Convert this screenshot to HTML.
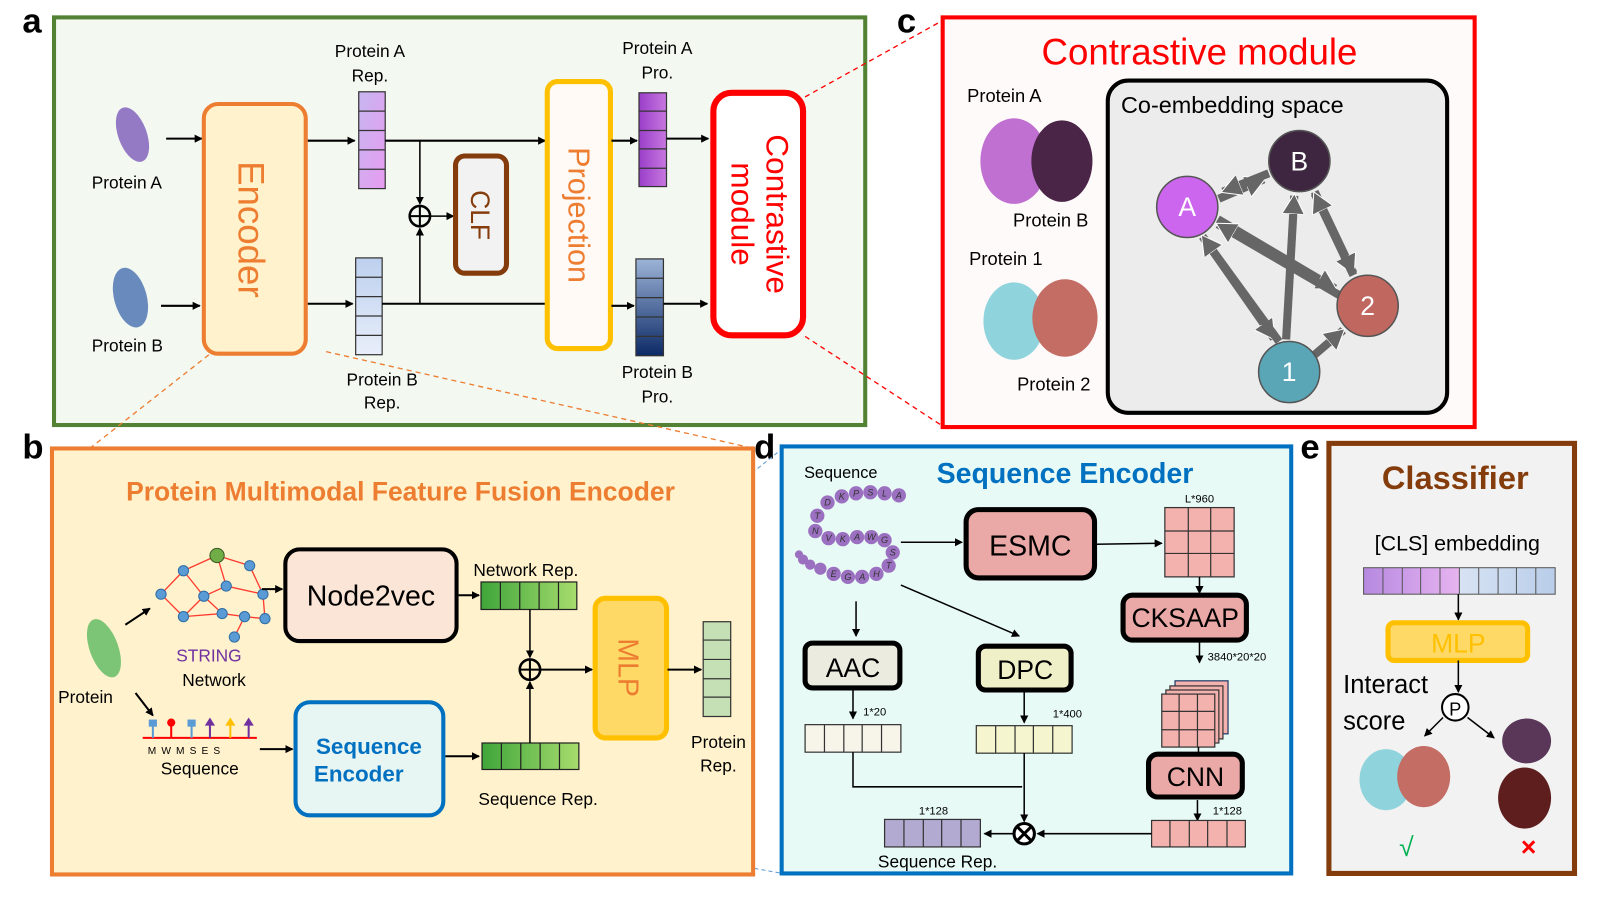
<!DOCTYPE html>
<html><head><meta charset="utf-8"><style>
html,body{margin:0;padding:0;background:#fff}
svg{display:block}
text{font-family:"Liberation Sans",sans-serif}
</style></head><body>
<svg width="1600" height="900" viewBox="0 0 1570 883" xmlns="http://www.w3.org/2000/svg">
<defs>
<marker id="ar" markerWidth="8" markerHeight="8" refX="7" refY="4" orient="auto" markerUnits="userSpaceOnUse"><path d="M0,0 L8,4 L0,8 z" fill="#000"/></marker>
<marker id="ga" markerWidth="22" markerHeight="22" refX="18" refY="11" orient="auto" markerUnits="userSpaceOnUse"><path d="M0,0 L20,11 L0,22 z" fill="#666" stroke="#fff" stroke-width="1"/></marker>
<linearGradient id="pa" x1="0" y1="0" x2="1" y2="1"><stop offset="0" stop-color="#c6b6f0"/><stop offset="1" stop-color="#e79cf0"/></linearGradient>
<linearGradient id="pb" x1="0" y1="0" x2="0" y2="1"><stop offset="0" stop-color="#bcd0ee"/><stop offset="1" stop-color="#e8eefa"/></linearGradient>
<linearGradient id="pp" x1="0" y1="0" x2="1" y2="0"><stop offset="0" stop-color="#9a3fc9"/><stop offset="1" stop-color="#c877e0"/></linearGradient>
<linearGradient id="pd" x1="0" y1="0" x2="0" y2="1"><stop offset="0" stop-color="#9db4d8"/><stop offset="1" stop-color="#0c2a66"/></linearGradient>
<linearGradient id="gn" x1="0" y1="0" x2="1" y2="0"><stop offset="0" stop-color="#3fa53a"/><stop offset="1" stop-color="#a7dc6e"/></linearGradient>
<linearGradient id="emb" x1="0" y1="0" x2="1" y2="0"><stop offset="0" stop-color="#b689e0"/><stop offset="0.5" stop-color="#e7b4f0"/><stop offset="0.5" stop-color="#d7e3f4"/><stop offset="1" stop-color="#b9cde9"/></linearGradient>
</defs>

<text x="22" y="32" font-size="34" font-weight="bold">a</text>
<text x="880" y="32" font-size="34" font-weight="bold">c</text>
<text x="22" y="450" font-size="34" font-weight="bold">b</text>
<text x="740" y="450" font-size="34" font-weight="bold">d</text>
<text x="1276" y="450" font-size="34" font-weight="bold">e</text>

<!-- ===== Panel a ===== -->
<rect x="53" y="17" width="796" height="400" fill="#f3f8f1" stroke="#548235" stroke-width="4"/>
<g fill="#8a6cc0" opacity="0.9"><ellipse cx="130" cy="132" rx="14" ry="28" transform="rotate(-20 130 132)"/></g>
<g fill="#5b7fb8" opacity="0.9"><ellipse cx="128" cy="292" rx="16" ry="30" transform="rotate(-15 128 292)"/></g>
<text x="90" y="185" font-size="17">Protein A</text>
<text x="90" y="345" font-size="17">Protein B</text>
<line x1="163" y1="136" x2="198" y2="136" stroke="#000" stroke-width="2" marker-end="url(#ar)"/>
<line x1="158" y1="300" x2="196" y2="300" stroke="#000" stroke-width="2" marker-end="url(#ar)"/>
<rect x="200" y="102" width="100" height="245" rx="14" fill="#fff2cc" stroke="#ed7d31" stroke-width="4"/>
<text transform="translate(234,225) rotate(90)" font-size="36" fill="#ed7d31" text-anchor="middle">Encoder</text>
<line x1="302" y1="138" x2="348" y2="138" stroke="#000" stroke-width="2" marker-end="url(#ar)"/>
<line x1="302" y1="298" x2="346" y2="298" stroke="#000" stroke-width="2" marker-end="url(#ar)"/>
<g stroke="#333" stroke-width="1.2">
<rect x="352" y="90" width="26" height="95" fill="url(#pa)"/>
<line x1="352" y1="109" x2="378" y2="109"/><line x1="352" y1="128" x2="378" y2="128"/><line x1="352" y1="147" x2="378" y2="147"/><line x1="352" y1="166" x2="378" y2="166"/>
<rect x="349" y="253" width="26" height="95" fill="url(#pb)"/>
<line x1="349" y1="272" x2="375" y2="272"/><line x1="349" y1="291" x2="375" y2="291"/><line x1="349" y1="310" x2="375" y2="310"/><line x1="349" y1="329" x2="375" y2="329"/>
</g>
<text x="363" y="56" font-size="17" text-anchor="middle">Protein A</text>
<text x="363" y="80" font-size="17" text-anchor="middle">Rep.</text>
<text x="375" y="378" font-size="17" text-anchor="middle">Protein B</text>
<text x="375" y="401" font-size="17" text-anchor="middle">Rep.</text>
<line x1="378" y1="138" x2="535" y2="138" stroke="#000" stroke-width="2" marker-end="url(#ar)"/>
<line x1="375" y1="298" x2="545" y2="298" stroke="#000" stroke-width="2" marker-end="url(#ar)"/>
<line x1="412" y1="138" x2="412" y2="200" stroke="#000" stroke-width="1.5" marker-end="url(#ar)"/>
<line x1="412" y1="298" x2="412" y2="224" stroke="#000" stroke-width="1.5" marker-end="url(#ar)"/>
<circle cx="412" cy="212" r="10" fill="none" stroke="#000" stroke-width="2.5"/>
<line x1="402" y1="212" x2="422" y2="212" stroke="#000" stroke-width="2"/><line x1="412" y1="202" x2="412" y2="222" stroke="#000" stroke-width="2"/>
<line x1="422" y1="212" x2="445" y2="212" stroke="#000" stroke-width="1.5" marker-end="url(#ar)"/>
<rect x="447" y="153" width="50" height="115" rx="9" fill="#f2f2f2" stroke="#843c0c" stroke-width="5"/>
<text transform="translate(462,211) rotate(90)" font-size="26" fill="#843c0c" text-anchor="middle">CLF</text>
<rect x="537" y="80" width="62" height="262" rx="10" fill="#fffaf5" stroke="#ffc000" stroke-width="5"/>
<text transform="translate(558,211) rotate(90)" font-size="30" fill="#ed7d31" text-anchor="middle">Projection</text>
<line x1="600" y1="138" x2="625" y2="138" stroke="#000" stroke-width="2" marker-end="url(#ar)"/>
<line x1="600" y1="300" x2="622" y2="300" stroke="#000" stroke-width="2" marker-end="url(#ar)"/>
<g stroke="#333" stroke-width="1.2">
<rect x="627" y="91" width="27" height="92" fill="url(#pp)"/>
<line x1="627" y1="109" x2="654" y2="109"/><line x1="627" y1="128" x2="654" y2="128"/><line x1="627" y1="146" x2="654" y2="146"/><line x1="627" y1="165" x2="654" y2="165"/>
<rect x="624" y="254" width="27" height="95" fill="url(#pd)"/>
<line x1="624" y1="273" x2="651" y2="273"/><line x1="624" y1="292" x2="651" y2="292"/><line x1="624" y1="311" x2="651" y2="311"/><line x1="624" y1="330" x2="651" y2="330"/>
</g>
<text x="645" y="53" font-size="17" text-anchor="middle">Protein A</text>
<text x="645" y="77" font-size="17" text-anchor="middle">Pro.</text>
<text x="645" y="371" font-size="17" text-anchor="middle">Protein B</text>
<text x="645" y="395" font-size="17" text-anchor="middle">Pro.</text>
<line x1="654" y1="136" x2="695" y2="136" stroke="#000" stroke-width="2" marker-end="url(#ar)"/>
<line x1="651" y1="298" x2="694" y2="298" stroke="#000" stroke-width="2" marker-end="url(#ar)"/>
<rect x="700" y="91" width="88" height="238" rx="18" fill="#fff" stroke="#ff0000" stroke-width="6"/>
<text transform="translate(752,210) rotate(90)" font-size="31" fill="#ff0000" text-anchor="middle">Contrastive</text>
<text transform="translate(718,210) rotate(90)" font-size="31" fill="#ff0000" text-anchor="middle">module</text>

<line x1="790" y1="95" x2="925" y2="20" stroke="#ff0000" stroke-width="1.3" stroke-dasharray="5,4"/>
<line x1="790" y1="330" x2="925" y2="418" stroke="#ff0000" stroke-width="1.3" stroke-dasharray="5,4"/>
<line x1="205" y1="348" x2="88" y2="440" stroke="#ed7d31" stroke-width="1.3" stroke-dasharray="5,4"/>
<line x1="320" y1="345" x2="740" y2="440" stroke="#ed7d31" stroke-width="1.3" stroke-dasharray="5,4"/>
<line x1="437" y1="704" x2="768" y2="440" stroke="#5b9bd5" stroke-width="1" stroke-dasharray="4,3"/>
<line x1="437" y1="798" x2="768" y2="857" stroke="#5b9bd5" stroke-width="1" stroke-dasharray="4,3"/>

<!-- ===== Panel c ===== -->
<rect x="925" y="17" width="522" height="402" fill="#fffafa" stroke="#ff0000" stroke-width="4"/>
<text x="1177" y="63" font-size="36" fill="#ff0000" text-anchor="middle">Contrastive module</text>
<text x="949" y="100" font-size="18">Protein A</text>
<ellipse cx="995" cy="158" rx="33" ry="42" fill="#c070d0"/>
<ellipse cx="1042" cy="158" rx="30" ry="40" fill="#4a2548"/>
<text x="994" y="222" font-size="18">Protein B</text>
<text x="951" y="260" font-size="18">Protein 1</text>
<ellipse cx="995" cy="315" rx="30" ry="38" fill="#8fd3dc"/>
<ellipse cx="1045" cy="312" rx="32" ry="38" fill="#c46d65"/>
<text x="998" y="383" font-size="18">Protein 2</text>
<rect x="1087" y="79" width="333" height="326" rx="20" fill="#ececec" stroke="#000" stroke-width="4"/>
<text x="1100" y="111" font-size="23">Co-embedding space</text>
<g stroke="#666" stroke-width="8" fill="none">
<line x1="1196" y1="195" x2="1240" y2="176" marker-end="url(#ga)"/>
<line x1="1245" y1="170" x2="1200" y2="188" marker-end="url(#ga)"/>
<line x1="1195" y1="215" x2="1310" y2="283" marker-end="url(#ga)"/>
<line x1="1315" y1="290" x2="1195" y2="220" marker-end="url(#ga)"/>
<line x1="1180" y1="232" x2="1250" y2="332" marker-end="url(#ga)"/>
<line x1="1255" y1="335" x2="1180" y2="232" marker-end="url(#ga)"/>
<line x1="1262" y1="333" x2="1270" y2="192" marker-end="url(#ga)"/>
<line x1="1290" y1="188" x2="1328" y2="268" marker-end="url(#ga)"/>
<line x1="1328" y1="270" x2="1290" y2="190" marker-end="url(#ga)"/>
<line x1="1290" y1="348" x2="1318" y2="324" marker-end="url(#ga)"/>
</g>
<circle cx="1165" cy="203" r="30" fill="#cc66ee" stroke="#555" stroke-width="1.5"/>
<circle cx="1275" cy="158" r="30" fill="#3f2640" stroke="#555" stroke-width="1.5"/>
<circle cx="1342" cy="300" r="30" fill="#c0675f" stroke="#555" stroke-width="1.5"/>
<circle cx="1265" cy="365" r="30" fill="#5aa6b6" stroke="#555" stroke-width="1.5"/>
<text x="1165" y="212" font-size="26" fill="#fff" text-anchor="middle">A</text>
<text x="1275" y="167" font-size="26" fill="#fff" text-anchor="middle">B</text>
<text x="1342" y="309" font-size="26" fill="#fff" text-anchor="middle">2</text>
<text x="1265" y="374" font-size="26" fill="#fff" text-anchor="middle">1</text>

<!-- ===== Panel b ===== -->
<rect x="51" y="440" width="688" height="418" fill="#fff2cc" stroke="#ed7d31" stroke-width="4"/>
<text x="393" y="491" font-size="26" font-weight="bold" fill="#ed7d31" text-anchor="middle">Protein Multimodal Feature Fusion Encoder</text>
<ellipse cx="102" cy="636" rx="14" ry="30" fill="#7cc576" transform="rotate(-20 102 636)"/>
<text x="57" y="690" font-size="17">Protein</text>
<line x1="123" y1="613" x2="147" y2="597" stroke="#000" stroke-width="2" marker-end="url(#ar)"/>
<line x1="133" y1="680" x2="150" y2="702" stroke="#000" stroke-width="2" marker-end="url(#ar)"/>
<g stroke="#ff3b30" stroke-width="1.3">
<line x1="213" y1="545" x2="180" y2="560"/><line x1="213" y1="545" x2="245" y2="555"/><line x1="213" y1="545" x2="222" y2="575"/>
<line x1="180" y1="560" x2="158" y2="583"/><line x1="180" y1="560" x2="200" y2="585"/><line x1="245" y1="555" x2="258" y2="583"/>
<line x1="222" y1="575" x2="200" y2="585"/><line x1="222" y1="575" x2="258" y2="583"/><line x1="158" y1="583" x2="180" y2="605"/>
<line x1="200" y1="585" x2="218" y2="602"/><line x1="258" y1="583" x2="260" y2="607"/><line x1="218" y1="602" x2="240" y2="605"/>
<line x1="180" y1="605" x2="218" y2="602"/><line x1="240" y1="605" x2="230" y2="625"/><line x1="200" y1="585" x2="180" y2="605"/><line x1="240" y1="605" x2="260" y2="607"/>
</g>
<g fill="#5b9bd5" stroke="#2e6ca4" stroke-width="1">
<circle cx="180" cy="560" r="5"/><circle cx="245" cy="555" r="5"/><circle cx="222" cy="575" r="5"/><circle cx="158" cy="583" r="5"/>
<circle cx="200" cy="585" r="5"/><circle cx="258" cy="583" r="5"/><circle cx="180" cy="605" r="5"/><circle cx="218" cy="602" r="5"/>
<circle cx="240" cy="605" r="5"/><circle cx="260" cy="607" r="5"/><circle cx="230" cy="625" r="5"/>
</g>
<circle cx="213" cy="545" r="7" fill="#70ad47" stroke="#385723"/>
<text x="205" y="649" font-size="17" fill="#7030a0" text-anchor="middle">STRING</text>
<text x="210" y="673" font-size="17" text-anchor="middle">Network</text>
<line x1="257" y1="578" x2="277" y2="578" stroke="#000" stroke-width="2" marker-end="url(#ar)"/>
<rect x="280" y="539" width="168" height="90" rx="14" fill="#fbe5d6" stroke="#000" stroke-width="4"/>
<text x="364" y="594" font-size="28" text-anchor="middle">Node2vec</text>
<line x1="450" y1="584" x2="470" y2="584" stroke="#000" stroke-width="2" marker-end="url(#ar)"/>
<text x="516" y="565" font-size="17" text-anchor="middle">Network Rep.</text>
<g stroke="#222" stroke-width="1.2">
<rect x="472" y="571" width="94" height="27" fill="url(#gn)"/>
<line x1="491" y1="571" x2="491" y2="598"/><line x1="510" y1="571" x2="510" y2="598"/><line x1="529" y1="571" x2="529" y2="598"/><line x1="548" y1="571" x2="548" y2="598"/>
</g>
<line x1="140" y1="724" x2="252" y2="724" stroke="#ff0000" stroke-width="2"/>
<g stroke-width="2">
<line x1="150" y1="724" x2="150" y2="710" stroke="#5b9bd5"/><rect x="146" y="706" width="8" height="7" fill="#5b9bd5"/>
<line x1="168" y1="724" x2="168" y2="710" stroke="#ff0000"/><circle cx="168" cy="709" r="4" fill="#ff0000"/>
<line x1="188" y1="724" x2="188" y2="710" stroke="#5b9bd5"/><rect x="184" y="706" width="8" height="7" fill="#5b9bd5"/>
<line x1="206" y1="724" x2="206" y2="710" stroke="#7030a0"/><path d="M201,712 L206,704 L211,712z" fill="#7030a0"/>
<line x1="226" y1="724" x2="226" y2="710" stroke="#ffc000"/><path d="M221,712 L226,704 L231,712z" fill="#ffc000"/>
<line x1="244" y1="724" x2="244" y2="710" stroke="#7030a0"/><path d="M239,712 L244,704 L249,712z" fill="#7030a0"/>
</g>
<text x="145" y="740" font-size="10" letter-spacing="5">MWMSES</text>
<text x="196" y="760" font-size="17" text-anchor="middle">Sequence</text>
<line x1="255" y1="735" x2="287" y2="735" stroke="#000" stroke-width="2" marker-end="url(#ar)"/>
<rect x="290" y="689" width="145" height="111" rx="14" fill="#e7f5f3" stroke="#0070c0" stroke-width="4"/>
<text x="362" y="740" font-size="22" font-weight="bold" fill="#0070c0" text-anchor="middle">Sequence</text>
<text x="352" y="767" font-size="22" font-weight="bold" fill="#0070c0" text-anchor="middle">Encoder</text>
<line x1="437" y1="742" x2="470" y2="742" stroke="#000" stroke-width="2" marker-end="url(#ar)"/>
<g stroke="#222" stroke-width="1.2">
<rect x="473" y="729" width="95" height="26" fill="url(#gn)"/>
<line x1="492" y1="729" x2="492" y2="755"/><line x1="511" y1="729" x2="511" y2="755"/><line x1="530" y1="729" x2="530" y2="755"/><line x1="549" y1="729" x2="549" y2="755"/>
</g>
<text x="528" y="790" font-size="17" text-anchor="middle">Sequence Rep.</text>
<line x1="520" y1="598" x2="520" y2="645" stroke="#000" stroke-width="1.5" marker-end="url(#ar)"/>
<line x1="520" y1="729" x2="520" y2="669" stroke="#000" stroke-width="1.5" marker-end="url(#ar)"/>
<circle cx="520" cy="657" r="10" fill="none" stroke="#000" stroke-width="2.5"/>
<line x1="510" y1="657" x2="530" y2="657" stroke="#000" stroke-width="2"/><line x1="520" y1="647" x2="520" y2="667" stroke="#000" stroke-width="2"/>
<line x1="530" y1="657" x2="581" y2="657" stroke="#000" stroke-width="2" marker-end="url(#ar)"/>
<rect x="584" y="587" width="70" height="137" rx="10" fill="#ffd966" stroke="#ffc000" stroke-width="5"/>
<text transform="translate(607,655) rotate(90)" font-size="28" fill="#ed7d31" text-anchor="middle">MLP</text>
<line x1="655" y1="657" x2="688" y2="657" stroke="#000" stroke-width="2" marker-end="url(#ar)"/>
<g stroke="#333" stroke-width="1.2">
<rect x="690" y="610" width="27" height="93" fill="#c5e0b4"/>
<line x1="690" y1="628" x2="717" y2="628"/><line x1="690" y1="647" x2="717" y2="647"/><line x1="690" y1="666" x2="717" y2="666"/><line x1="690" y1="684" x2="717" y2="684"/>
</g>
<text x="705" y="734" font-size="17" text-anchor="middle">Protein</text>
<text x="705" y="757" font-size="17" text-anchor="middle">Rep.</text>

<!-- ===== Panel d ===== -->
<rect x="767" y="438" width="500" height="419" fill="#e8faf6" stroke="#0070c0" stroke-width="4"/>
<text x="1045" y="474" font-size="28" font-weight="bold" fill="#0070c0" text-anchor="middle">Sequence Encoder</text>
<text x="789" y="469" font-size="16">Sequence</text>
<g fill="#9b70c0">
<circle cx="812" cy="493" r="7"/><circle cx="826" cy="487" r="7"/><circle cx="840" cy="484" r="7"/><circle cx="854" cy="483" r="7"/><circle cx="868" cy="484" r="7"/><circle cx="882" cy="486" r="7"/>
<circle cx="802" cy="506" r="7"/><circle cx="800" cy="521" r="7"/>
<circle cx="813" cy="528" r="7"/><circle cx="827" cy="529" r="7"/><circle cx="841" cy="527" r="7"/><circle cx="855" cy="527" r="7"/><circle cx="868" cy="530" r="7"/><circle cx="876" cy="542" r="7"/>
<circle cx="872" cy="555" r="7"/><circle cx="860" cy="563" r="7"/><circle cx="846" cy="566" r="7"/><circle cx="832" cy="566" r="7"/><circle cx="818" cy="563" r="7"/>
<circle cx="805" cy="558" r="6"/><circle cx="795" cy="554" r="5"/><circle cx="788" cy="549" r="5"/><circle cx="784" cy="544" r="4"/>
</g>
<g font-size="9" font-style="italic" text-anchor="middle" fill="#333">
<text x="812" y="496">D</text><text x="826" y="490">K</text><text x="840" y="487">P</text><text x="854" y="486">S</text><text x="868" y="487">L</text><text x="882" y="489">A</text>
<text x="802" y="509">T</text><text x="800" y="524">N</text><text x="813" y="531">V</text><text x="827" y="532">K</text><text x="841" y="530">A</text><text x="855" y="530">W</text><text x="868" y="533">G</text><text x="876" y="545">S</text>
<text x="872" y="558">T</text><text x="860" y="566">H</text><text x="846" y="569">A</text><text x="832" y="569">G</text><text x="818" y="566">E</text>
</g>
<line x1="884" y1="532" x2="944" y2="532" stroke="#000" stroke-width="1.5" marker-end="url(#ar)"/>
<rect x="948" y="500" width="126" height="67" rx="12" fill="#eaa9a6" stroke="#000" stroke-width="5"/>
<text x="1011" y="545" font-size="28" text-anchor="middle">ESMC</text>
<line x1="1075" y1="534" x2="1140" y2="533" stroke="#000" stroke-width="1.5" marker-end="url(#ar)"/>
<text x="1177" y="493" font-size="11" text-anchor="middle">L*960</text>
<g stroke="#333" stroke-width="1.2" fill="#f4b2ae">
<rect x="1143" y="498" width="68" height="68"/>
<line x1="1166" y1="498" x2="1166" y2="566"/><line x1="1188" y1="498" x2="1188" y2="566"/><line x1="1143" y1="521" x2="1211" y2="521"/><line x1="1143" y1="543" x2="1211" y2="543"/>
</g>
<line x1="1177" y1="566" x2="1177" y2="582" stroke="#000" stroke-width="1.5" marker-end="url(#ar)"/>
<rect x="1102" y="584" width="121" height="44" rx="9" fill="#eaa9a6" stroke="#000" stroke-width="5"/>
<text x="1163" y="615" font-size="26" text-anchor="middle">CKSAAP</text>
<line x1="1177" y1="628" x2="1177" y2="650" stroke="#000" stroke-width="1.5" marker-end="url(#ar)"/>
<text x="1185" y="648" font-size="11">3840*20*20</text>
<g stroke="#333" stroke-width="1.2" fill="#f4b2ae">
<rect x="1153" y="668" width="52" height="52" fill="#f4b2ae" stroke="#1f3864"/>
<rect x="1148" y="673" width="52" height="52"/>
<rect x="1144" y="677" width="52" height="52"/>
<rect x="1140" y="681" width="52" height="52"/>
<line x1="1157" y1="681" x2="1157" y2="733"/><line x1="1175" y1="681" x2="1175" y2="733"/><line x1="1140" y1="698" x2="1192" y2="698"/><line x1="1140" y1="716" x2="1192" y2="716"/>
</g>
<line x1="1176" y1="733" x2="1176" y2="747" stroke="#000" stroke-width="1.5" marker-end="url(#ar)"/>
<rect x="1127" y="740" width="92" height="42" rx="9" fill="#eaa9a6" stroke="#000" stroke-width="5"/>
<text x="1173" y="771" font-size="26" text-anchor="middle">CNN</text>
<line x1="1175" y1="785" x2="1175" y2="805" stroke="#000" stroke-width="1.5" marker-end="url(#ar)"/>
<text x="1190" y="799" font-size="11">1*128</text>
<g stroke="#333" stroke-width="1.2" fill="#f4b2ae">
<rect x="1130" y="805" width="92" height="26"/>
<line x1="1148" y1="805" x2="1148" y2="831"/><line x1="1167" y1="805" x2="1167" y2="831"/><line x1="1185" y1="805" x2="1185" y2="831"/><line x1="1204" y1="805" x2="1204" y2="831"/>
</g>
<line x1="1130" y1="818" x2="1018" y2="818" stroke="#000" stroke-width="1.5" marker-end="url(#ar)"/>
<line x1="840" y1="590" x2="840" y2="624" stroke="#000" stroke-width="1.5" marker-end="url(#ar)"/>
<line x1="884" y1="574" x2="1000" y2="624" stroke="#000" stroke-width="1.5" marker-end="url(#ar)"/>
<rect x="790" y="631" width="93" height="44" rx="7" fill="#ebebe0" stroke="#000" stroke-width="5"/>
<text x="837" y="664" font-size="26" text-anchor="middle">AAC</text>
<rect x="960" y="634" width="91" height="43" rx="7" fill="#f0f0c8" stroke="#000" stroke-width="5"/>
<text x="1006" y="666" font-size="26" text-anchor="middle">DPC</text>
<line x1="837" y1="677" x2="837" y2="705" stroke="#000" stroke-width="1.5" marker-end="url(#ar)"/>
<line x1="1005" y1="679" x2="1005" y2="709" stroke="#000" stroke-width="1.5" marker-end="url(#ar)"/>
<text x="847" y="702" font-size="11">1*20</text>
<text x="1033" y="704" font-size="11">1*400</text>
<g stroke="#333" stroke-width="1.2">
<rect x="790" y="711" width="94" height="27" fill="#f7f5ea"/>
<line x1="809" y1="711" x2="809" y2="738"/><line x1="828" y1="711" x2="828" y2="738"/><line x1="846" y1="711" x2="846" y2="738"/><line x1="865" y1="711" x2="865" y2="738"/>
<rect x="958" y="712" width="94" height="27" fill="#f5f5d0"/>
<line x1="977" y1="712" x2="977" y2="739"/><line x1="996" y1="712" x2="996" y2="739"/><line x1="1014" y1="712" x2="1014" y2="739"/><line x1="1033" y1="712" x2="1033" y2="739"/>
</g>
<polyline points="837,738 837,772 1003,772" fill="none" stroke="#000" stroke-width="1.5"/>
<line x1="1005" y1="739" x2="1005" y2="806" stroke="#000" stroke-width="1.5" marker-end="url(#ar)"/>
<circle cx="1005" cy="818" r="10" fill="#fff" stroke="#000" stroke-width="3"/>
<line x1="998" y1="811" x2="1012" y2="825" stroke="#000" stroke-width="3"/><line x1="1012" y1="811" x2="998" y2="825" stroke="#000" stroke-width="3"/>
<line x1="995" y1="818" x2="966" y2="818" stroke="#000" stroke-width="1.5" marker-end="url(#ar)"/>
<text x="916" y="799" font-size="11" text-anchor="middle">1*128</text>
<g stroke="#333" stroke-width="1.2">
<rect x="868" y="804" width="94" height="27" fill="#b3aad2"/>
<line x1="887" y1="804" x2="887" y2="831"/><line x1="906" y1="804" x2="906" y2="831"/><line x1="924" y1="804" x2="924" y2="831"/><line x1="943" y1="804" x2="943" y2="831"/>
</g>
<text x="920" y="851" font-size="17" text-anchor="middle">Sequence Rep.</text>

<!-- ===== Panel e ===== -->
<rect x="1304" y="435" width="241" height="422" fill="#f2f2f2" stroke="#843c0c" stroke-width="5"/>
<text x="1428" y="480" font-size="32" font-weight="bold" fill="#843c0c" text-anchor="middle">Classifier</text>
<text x="1430" y="540" font-size="21" text-anchor="middle">[CLS] embedding</text>
<g stroke="#555" stroke-width="1">
<rect x="1338" y="557" width="188" height="26" fill="url(#emb)"/>
<line x1="1357" y1="557" x2="1357" y2="583"/><line x1="1376" y1="557" x2="1376" y2="583"/><line x1="1394" y1="557" x2="1394" y2="583"/><line x1="1413" y1="557" x2="1413" y2="583"/><line x1="1432" y1="557" x2="1432" y2="583"/><line x1="1451" y1="557" x2="1451" y2="583"/><line x1="1470" y1="557" x2="1470" y2="583"/><line x1="1488" y1="557" x2="1488" y2="583"/><line x1="1507" y1="557" x2="1507" y2="583"/>
</g>
<line x1="1431" y1="583" x2="1431" y2="608" stroke="#000" stroke-width="1.5" marker-end="url(#ar)"/>
<rect x="1362" y="611" width="137" height="37" rx="6" fill="#ffd966" stroke="#ffc000" stroke-width="5"/>
<text x="1431" y="640" font-size="26" fill="#ffc000" text-anchor="middle">MLP</text>
<line x1="1431" y1="648" x2="1431" y2="679" stroke="#000" stroke-width="1.5" marker-end="url(#ar)"/>
<text x="1318" y="680" font-size="25">Interact</text>
<text x="1318" y="716" font-size="25">score</text>
<circle cx="1428" cy="694" r="13" fill="#fff" stroke="#000" stroke-width="2"/>
<text x="1428" y="702" font-size="18" text-anchor="middle">P</text>
<line x1="1416" y1="704" x2="1398" y2="722" stroke="#000" stroke-width="1.5" marker-end="url(#ar)"/>
<line x1="1440" y1="704" x2="1466" y2="724" stroke="#000" stroke-width="1.5" marker-end="url(#ar)"/>
<ellipse cx="1360" cy="765" rx="26" ry="30" fill="#8fd3dc"/>
<ellipse cx="1397" cy="762" rx="26" ry="30" fill="#c46d65"/>
<ellipse cx="1498" cy="727" rx="24" ry="22" fill="#5a3658"/>
<ellipse cx="1496" cy="783" rx="26" ry="30" fill="#5e1e1e"/>
<text x="1380" y="840" font-size="26" fill="#00b050" text-anchor="middle">√</text>
<text x="1500" y="840" font-size="26" fill="#ff0000" text-anchor="middle" font-weight="bold">×</text>
</svg>
</body></html>
